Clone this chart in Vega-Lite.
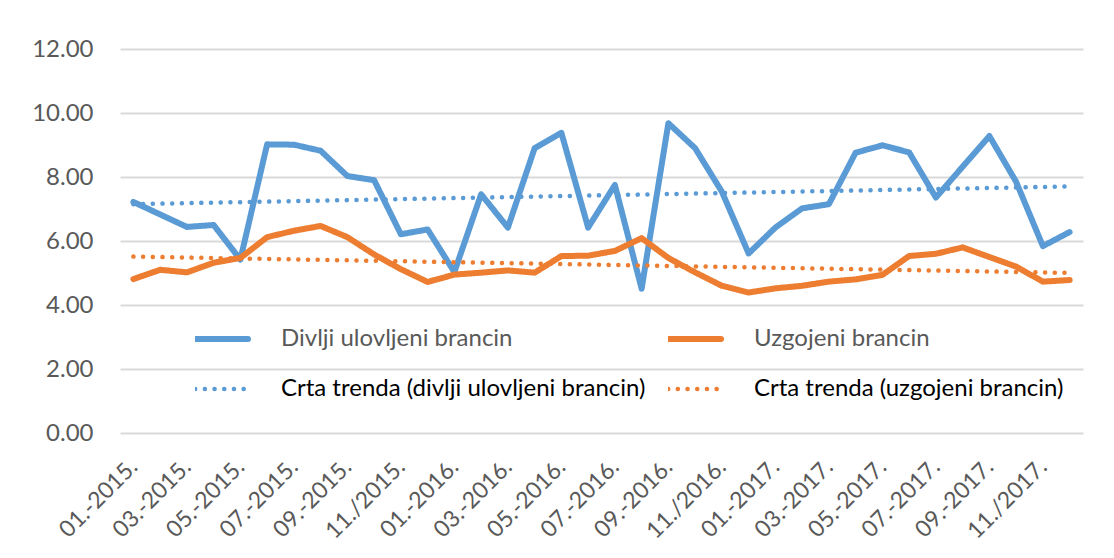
{
  "$schema": "https://vega.github.io/schema/vega-lite/v6.json",
  "width": 963,
  "height": 384,
  "autosize": {"type": "none"},
  "padding": {"left": 120, "top": 49, "right": 31, "bottom": 125},
  "background": "white",
  "config": {"view": {"stroke": null}, "font": "Lato"},
  "data": {
    "values": [
      {"i": 0, "serija": "Divlji ulovljeni brancin", "trend": "Crta trenda (divlji ulovljeni brancin)", "vrijednost": 7.22},
      {"i": 1, "serija": "Divlji ulovljeni brancin", "trend": "Crta trenda (divlji ulovljeni brancin)", "vrijednost": 6.83},
      {"i": 2, "serija": "Divlji ulovljeni brancin", "trend": "Crta trenda (divlji ulovljeni brancin)", "vrijednost": 6.44},
      {"i": 3, "serija": "Divlji ulovljeni brancin", "trend": "Crta trenda (divlji ulovljeni brancin)", "vrijednost": 6.5},
      {"i": 4, "serija": "Divlji ulovljeni brancin", "trend": "Crta trenda (divlji ulovljeni brancin)", "vrijednost": 5.42},
      {"i": 5, "serija": "Divlji ulovljeni brancin", "trend": "Crta trenda (divlji ulovljeni brancin)", "vrijednost": 9.02},
      {"i": 6, "serija": "Divlji ulovljeni brancin", "trend": "Crta trenda (divlji ulovljeni brancin)", "vrijednost": 9.01},
      {"i": 7, "serija": "Divlji ulovljeni brancin", "trend": "Crta trenda (divlji ulovljeni brancin)", "vrijednost": 8.82},
      {"i": 8, "serija": "Divlji ulovljeni brancin", "trend": "Crta trenda (divlji ulovljeni brancin)", "vrijednost": 8.03},
      {"i": 9, "serija": "Divlji ulovljeni brancin", "trend": "Crta trenda (divlji ulovljeni brancin)", "vrijednost": 7.9},
      {"i": 10, "serija": "Divlji ulovljeni brancin", "trend": "Crta trenda (divlji ulovljeni brancin)", "vrijednost": 6.21},
      {"i": 11, "serija": "Divlji ulovljeni brancin", "trend": "Crta trenda (divlji ulovljeni brancin)", "vrijednost": 6.36},
      {"i": 12, "serija": "Divlji ulovljeni brancin", "trend": "Crta trenda (divlji ulovljeni brancin)", "vrijednost": 5.03},
      {"i": 13, "serija": "Divlji ulovljeni brancin", "trend": "Crta trenda (divlji ulovljeni brancin)", "vrijednost": 7.46},
      {"i": 14, "serija": "Divlji ulovljeni brancin", "trend": "Crta trenda (divlji ulovljeni brancin)", "vrijednost": 6.42},
      {"i": 15, "serija": "Divlji ulovljeni brancin", "trend": "Crta trenda (divlji ulovljeni brancin)", "vrijednost": 8.9},
      {"i": 16, "serija": "Divlji ulovljeni brancin", "trend": "Crta trenda (divlji ulovljeni brancin)", "vrijednost": 9.38},
      {"i": 17, "serija": "Divlji ulovljeni brancin", "trend": "Crta trenda (divlji ulovljeni brancin)", "vrijednost": 6.42},
      {"i": 18, "serija": "Divlji ulovljeni brancin", "trend": "Crta trenda (divlji ulovljeni brancin)", "vrijednost": 7.75},
      {"i": 19, "serija": "Divlji ulovljeni brancin", "trend": "Crta trenda (divlji ulovljeni brancin)", "vrijednost": 4.51},
      {"i": 20, "serija": "Divlji ulovljeni brancin", "trend": "Crta trenda (divlji ulovljeni brancin)", "vrijednost": 9.68},
      {"i": 21, "serija": "Divlji ulovljeni brancin", "trend": "Crta trenda (divlji ulovljeni brancin)", "vrijednost": 8.9},
      {"i": 22, "serija": "Divlji ulovljeni brancin", "trend": "Crta trenda (divlji ulovljeni brancin)", "vrijednost": 7.54},
      {"i": 23, "serija": "Divlji ulovljeni brancin", "trend": "Crta trenda (divlji ulovljeni brancin)", "vrijednost": 5.61},
      {"i": 24, "serija": "Divlji ulovljeni brancin", "trend": "Crta trenda (divlji ulovljeni brancin)", "vrijednost": 6.42},
      {"i": 25, "serija": "Divlji ulovljeni brancin", "trend": "Crta trenda (divlji ulovljeni brancin)", "vrijednost": 7.02},
      {"i": 26, "serija": "Divlji ulovljeni brancin", "trend": "Crta trenda (divlji ulovljeni brancin)", "vrijednost": 7.15},
      {"i": 27, "serija": "Divlji ulovljeni brancin", "trend": "Crta trenda (divlji ulovljeni brancin)", "vrijednost": 8.76},
      {"i": 28, "serija": "Divlji ulovljeni brancin", "trend": "Crta trenda (divlji ulovljeni brancin)", "vrijednost": 8.99},
      {"i": 29, "serija": "Divlji ulovljeni brancin", "trend": "Crta trenda (divlji ulovljeni brancin)", "vrijednost": 8.77},
      {"i": 30, "serija": "Divlji ulovljeni brancin", "trend": "Crta trenda (divlji ulovljeni brancin)", "vrijednost": 7.36},
      {"i": 31, "serija": "Divlji ulovljeni brancin", "trend": "Crta trenda (divlji ulovljeni brancin)", "vrijednost": 8.32},
      {"i": 32, "serija": "Divlji ulovljeni brancin", "trend": "Crta trenda (divlji ulovljeni brancin)", "vrijednost": 9.28},
      {"i": 33, "serija": "Divlji ulovljeni brancin", "trend": "Crta trenda (divlji ulovljeni brancin)", "vrijednost": 7.85},
      {"i": 34, "serija": "Divlji ulovljeni brancin", "trend": "Crta trenda (divlji ulovljeni brancin)", "vrijednost": 5.84},
      {"i": 35, "serija": "Divlji ulovljeni brancin", "trend": "Crta trenda (divlji ulovljeni brancin)", "vrijednost": 6.28},
      {"i": 0, "serija": "Uzgojeni brancin", "trend": "Crta trenda (uzgojeni brancin)", "vrijednost": 4.81},
      {"i": 1, "serija": "Uzgojeni brancin", "trend": "Crta trenda (uzgojeni brancin)", "vrijednost": 5.1},
      {"i": 2, "serija": "Uzgojeni brancin", "trend": "Crta trenda (uzgojeni brancin)", "vrijednost": 5.02},
      {"i": 3, "serija": "Uzgojeni brancin", "trend": "Crta trenda (uzgojeni brancin)", "vrijednost": 5.32},
      {"i": 4, "serija": "Uzgojeni brancin", "trend": "Crta trenda (uzgojeni brancin)", "vrijednost": 5.47},
      {"i": 5, "serija": "Uzgojeni brancin", "trend": "Crta trenda (uzgojeni brancin)", "vrijednost": 6.12},
      {"i": 6, "serija": "Uzgojeni brancin", "trend": "Crta trenda (uzgojeni brancin)", "vrijednost": 6.32},
      {"i": 7, "serija": "Uzgojeni brancin", "trend": "Crta trenda (uzgojeni brancin)", "vrijednost": 6.47},
      {"i": 8, "serija": "Uzgojeni brancin", "trend": "Crta trenda (uzgojeni brancin)", "vrijednost": 6.12},
      {"i": 9, "serija": "Uzgojeni brancin", "trend": "Crta trenda (uzgojeni brancin)", "vrijednost": 5.58},
      {"i": 10, "serija": "Uzgojeni brancin", "trend": "Crta trenda (uzgojeni brancin)", "vrijednost": 5.12},
      {"i": 11, "serija": "Uzgojeni brancin", "trend": "Crta trenda (uzgojeni brancin)", "vrijednost": 4.72},
      {"i": 12, "serija": "Uzgojeni brancin", "trend": "Crta trenda (uzgojeni brancin)", "vrijednost": 4.95},
      {"i": 13, "serija": "Uzgojeni brancin", "trend": "Crta trenda (uzgojeni brancin)", "vrijednost": 5.01},
      {"i": 14, "serija": "Uzgojeni brancin", "trend": "Crta trenda (uzgojeni brancin)", "vrijednost": 5.08},
      {"i": 15, "serija": "Uzgojeni brancin", "trend": "Crta trenda (uzgojeni brancin)", "vrijednost": 5.01},
      {"i": 16, "serija": "Uzgojeni brancin", "trend": "Crta trenda (uzgojeni brancin)", "vrijednost": 5.53},
      {"i": 17, "serija": "Uzgojeni brancin", "trend": "Crta trenda (uzgojeni brancin)", "vrijednost": 5.54},
      {"i": 18, "serija": "Uzgojeni brancin", "trend": "Crta trenda (uzgojeni brancin)", "vrijednost": 5.69},
      {"i": 19, "serija": "Uzgojeni brancin", "trend": "Crta trenda (uzgojeni brancin)", "vrijednost": 6.09},
      {"i": 20, "serija": "Uzgojeni brancin", "trend": "Crta trenda (uzgojeni brancin)", "vrijednost": 5.47},
      {"i": 21, "serija": "Uzgojeni brancin", "trend": "Crta trenda (uzgojeni brancin)", "vrijednost": 5.02},
      {"i": 22, "serija": "Uzgojeni brancin", "trend": "Crta trenda (uzgojeni brancin)", "vrijednost": 4.6},
      {"i": 23, "serija": "Uzgojeni brancin", "trend": "Crta trenda (uzgojeni brancin)", "vrijednost": 4.39},
      {"i": 24, "serija": "Uzgojeni brancin", "trend": "Crta trenda (uzgojeni brancin)", "vrijednost": 4.52},
      {"i": 25, "serija": "Uzgojeni brancin", "trend": "Crta trenda (uzgojeni brancin)", "vrijednost": 4.6},
      {"i": 26, "serija": "Uzgojeni brancin", "trend": "Crta trenda (uzgojeni brancin)", "vrijednost": 4.73},
      {"i": 27, "serija": "Uzgojeni brancin", "trend": "Crta trenda (uzgojeni brancin)", "vrijednost": 4.8},
      {"i": 28, "serija": "Uzgojeni brancin", "trend": "Crta trenda (uzgojeni brancin)", "vrijednost": 4.94},
      {"i": 29, "serija": "Uzgojeni brancin", "trend": "Crta trenda (uzgojeni brancin)", "vrijednost": 5.53},
      {"i": 30, "serija": "Uzgojeni brancin", "trend": "Crta trenda (uzgojeni brancin)", "vrijednost": 5.6},
      {"i": 31, "serija": "Uzgojeni brancin", "trend": "Crta trenda (uzgojeni brancin)", "vrijednost": 5.8},
      {"i": 32, "serija": "Uzgojeni brancin", "trend": "Crta trenda (uzgojeni brancin)", "vrijednost": 5.5},
      {"i": 33, "serija": "Uzgojeni brancin", "trend": "Crta trenda (uzgojeni brancin)", "vrijednost": 5.2},
      {"i": 34, "serija": "Uzgojeni brancin", "trend": "Crta trenda (uzgojeni brancin)", "vrijednost": 4.73},
      {"i": 35, "serija": "Uzgojeni brancin", "trend": "Crta trenda (uzgojeni brancin)", "vrijednost": 4.78}
    ]
  },
  "layer": [
    {
      "mark": {"type": "line", "strokeWidth": 6, "strokeJoin": "round", "strokeCap": "round"},
      "encoding": {
        "x": {
          "field": "i", "type": "quantitative",
          "scale": {"domain": [-0.5, 35.5], "nice": false, "zero": false},
          "axis": {
            "values": [0, 2, 4, 6, 8, 10, 12, 14, 16, 18, 20, 22, 24, 26, 28, 30, 32, 34],
            "labelExpr": "['01.-2015.','03.-2015.','05.-2015.','07.-2015.','09.-2015.','11./2015.','01.-2016.','03.-2016.','05.-2016.','07.-2016.','09.-2016.','11./2016.','01.-2017.','03.-2017.','05.-2017.','07.-2017.','09.-2017.','11./2017.'][datum.value / 2]",
            "labelAngle": -45, "labelAlign": "right", "labelBaseline": "middle",
            "labelPadding": 30, "labelFont": "Lato", "labelFontSize": 23, "labelColor": "#595959",
            "labelOverlap": false, "labelBound": false, "labelFlush": false,
            "ticks": false, "domain": false, "grid": false, "title": null
          }
        },
        "y": {
          "field": "vrijednost", "type": "quantitative",
          "scale": {"domain": [0, 12], "nice": false},
          "axis": {
            "values": [0, 2, 4, 6, 8, 10, 12], "format": ".2f", "title": null,
            "ticks": false, "domain": false, "gridColor": "#d9d9d9", "gridWidth": 2,
            "labelFont": "Lato", "labelFontSize": 24, "labelColor": "#595959", "labelPadding": 27
          }
        },
        "color": {
          "field": "serija", "type": "nominal",
          "scale": {
            "domain": ["Divlji ulovljeni brancin", "Uzgojeni brancin", "Crta trenda (divlji ulovljeni brancin)", "Crta trenda (uzgojeni brancin)"],
            "range": ["#5B9BD5", "#ED7D31", "#5B9BD5", "#ED7D31"]
          },
          "legend": {
            "title": null, "orient": "none", "legendX": 75, "legendY": 277, "columns": 2,
            "direction": "horizontal",
            "columnPadding": 22, "rowPadding": 24, "padding": 0, "clipHeight": 26,
            "symbolType": "stroke", "symbolSize": 6724, "symbolStrokeWidth": 6,
            "labelFont": "Lato", "labelFontSize": 24, "labelOffset": 62, "labelLimit": 600, "labelColor": "#595959",
            "encode": {
              "labels": {"update": {"fill": {"signal": "datum.index >= 2 ? '#000000' : '#595959'"}}},
              "symbols": {"update": {"strokeCap": {"value": "round"}, "strokeWidth": {"signal": "datum.index >= 2 ? 4.5 : 6"}}}
            }
          }
        },
        "strokeDash": {
          "field": "serija", "type": "nominal",
          "scale": {
            "domain": ["Divlji ulovljeni brancin", "Uzgojeni brancin", "Crta trenda (divlji ulovljeni brancin)", "Crta trenda (uzgojeni brancin)"],
            "range": [[1, 0], [1, 0], [0.1, 9.6], [0.1, 9.6]]
          },
          "legend": {
            "title": null, "orient": "none", "legendX": 75, "legendY": 277, "columns": 2,
            "direction": "horizontal",
            "columnPadding": 22, "rowPadding": 24, "padding": 0, "clipHeight": 26,
            "symbolType": "stroke", "symbolSize": 6724, "symbolStrokeWidth": 6,
            "labelFont": "Lato", "labelFontSize": 24, "labelOffset": 62, "labelLimit": 600, "labelColor": "#595959"
          }
        }
      }
    },
    {
      "transform": [
        {"regression": "vrijednost", "on": "i", "groupby": ["trend"], "method": "linear"}
      ],
      "mark": {"type": "line", "strokeWidth": 4.5, "strokeCap": "round"},
      "encoding": {
        "x": {"field": "i", "type": "quantitative"},
        "y": {"field": "vrijednost", "type": "quantitative"},
        "color": {"field": "trend", "type": "nominal"},
        "strokeDash": {"field": "trend", "type": "nominal"}
      }
    }
  ]
}
